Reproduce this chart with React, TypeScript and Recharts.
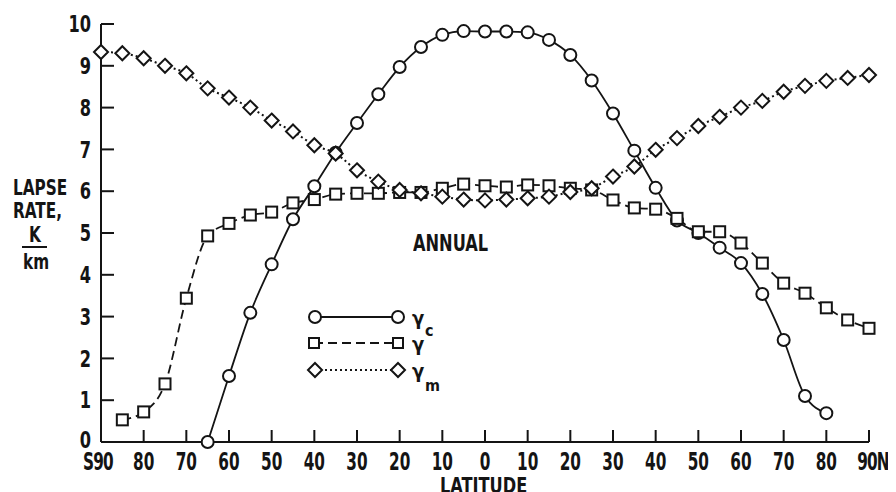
import React from 'react';
import { LineChart, Line, XAxis, YAxis } from 'recharts';

const latitudes = [-90, -85, -80, -75, -70, -65, -60, -55, -50, -45, -40, -35, -30, -25, -20, -15, -10, -5, 0, 5, 10, 15, 20, 25, 30, 35, 40, 45, 50, 55, 60, 65, 70, 75, 80, 85, 90];

const gammaC: (number | null)[] = [null, null, null, null, null, 0, 1.58, 3.09, 4.25, 5.33, 6.12, 6.92, 7.63, 8.32, 8.97, 9.45, 9.74, 9.83, 9.82, 9.82, 9.8, 9.62, 9.26, 8.65, 7.86, 6.97, 6.08, 5.3, 5.0, 4.65, 4.28, 3.54, 2.44, 1.1, 0.69, null, null];

const gamma: (number | null)[] = [null, 0.53, 0.72, 1.39, 3.44, 4.93, 5.23, 5.43, 5.5, 5.72, 5.8, 5.93, 5.95, 5.95, 5.97, 5.97, 6.07, 6.17, 6.13, 6.1, 6.15, 6.13, 6.07, 6.03, 5.79, 5.6, 5.57, 5.35, 5.03, 5.03, 4.76, 4.28, 3.8, 3.56, 3.21, 2.92, 2.72];

const gammaM: (number | null)[] = [9.33, 9.3, 9.18, 9.0, 8.82, 8.46, 8.24, 8.0, 7.69, 7.43, 7.1, 6.9, 6.5, 6.23, 6.03, 5.95, 5.87, 5.8, 5.78, 5.8, 5.83, 5.87, 5.98, 6.07, 6.35, 6.59, 6.99, 7.27, 7.56, 7.78, 8.0, 8.16, 8.38, 8.52, 8.64, 8.71, 8.78];

const xTicks = [-90, -80, -70, -60, -50, -40, -30, -20, -10, 0, 10, 20, 30, 40, 50, 60, 70, 80, 90];
const yTicks = [0, 1, 2, 3, 4, 5, 6, 7, 8, 9, 10];

const data = latitudes.map((lat, i) => ({ lat, gc: gammaC[i], g: gamma[i], gm: gammaM[i] }));

const FONT = '"Liberation Sans Narrow", "DejaVu Sans Condensed", "Arial Narrow", sans-serif';
const INK = '#141414';

const xLabel = (v: number) => {
  if (v === -90) return 'S90';
  if (v === 90) return '90N';
  return String(Math.abs(v));
};

const XTick = (props: any) => {
  const { x, y, payload } = props;
  const v = payload.value;
  const dx = v === -90 ? -3 : v === 90 ? 4 : 0;
  return (
    <g>
      <line x1={x} y1={y} x2={x} y2={y - 12} stroke={INK} strokeWidth={2} />
      <text
        transform={`translate(${x + dx},${y}) scale(1,1.45)`}
        x={0}
        y={19.5}
        textAnchor="middle"
        fontFamily={FONT}
        fontWeight="bold"
        fontSize={17}
        letterSpacing={v === 90 || v === -90 ? -0.8 : 0}
        fill={INK}
      >
        {xLabel(v)}
      </text>
    </g>
  );
};

const YTick = (props: any) => {
  const { x, y, payload } = props;
  return (
    <g>
      <line x1={x} y1={y} x2={x + 13} y2={y} stroke={INK} strokeWidth={2} />
      <text
        transform={`translate(${x - 10},${y - (payload.value === 0 ? 2 : 0)}) scale(1,1.25)`}
        x={0}
        y={0}
        dy="0.36em"
        textAnchor="end"
        fontFamily={FONT}
        fontWeight="bold"
        fontSize={18}
        fill={INK}
      >
        {payload.value}
      </text>
    </g>
  );
};

const CircleDot = (props: any) => {
  const { cx, cy, value } = props;
  if (value == null || cx == null || cy == null) return <g key={props.key} />;
  return <circle key={props.key} cx={cx} cy={cy} r={6} fill="#fff" stroke={INK} strokeWidth={2} />;
};

const SquareDot = (props: any) => {
  const { cx, cy, value } = props;
  if (value == null || cx == null || cy == null) return <g key={props.key} />;
  return <rect key={props.key} x={cx - 5.5} y={cy - 5.5} width={11} height={11} fill="#fff" stroke={INK} strokeWidth={2} />;
};

const DiamondDot = (props: any) => {
  const { cx, cy, value } = props;
  if (value == null || cx == null || cy == null) return <g key={props.key} />;
  const d = 7;
  return (
    <polygon
      key={props.key}
      points={`${cx},${cy - d} ${cx + d},${cy} ${cx},${cy + d} ${cx - d},${cy}`}
      fill="#fff"
      stroke={INK}
      strokeWidth={2}
    />
  );
};

const textStyle: React.CSSProperties = {
  position: 'absolute',
  fontFamily: FONT,
  fontWeight: 'bold',
  color: INK,
  whiteSpace: 'nowrap',
  lineHeight: 1,
  transformOrigin: 'left top',
};

const LegendBox = () => (
  <svg style={{ position: 'absolute', left: 290, top: 290 }} width={180} height={100}>
    <line x1={17} y1={19} x2={100} y2={19} stroke={INK} strokeWidth={2} />
    <circle cx={17} cy={19} r={6} fill="#fff" stroke={INK} strokeWidth={2} />
    <circle cx={100} cy={19} r={6} fill="#fff" stroke={INK} strokeWidth={2} />
    <text x={114} y={27} fontFamily={FONT} fontWeight="bold" fontSize={20} fill={INK}>γ</text>
    <text x={127} y={38} fontFamily={FONT} fontWeight="bold" fontSize={16} fill={INK}>c</text>
    <line x1={16} y1={45} x2={100} y2={45} stroke={INK} strokeWidth={2} strokeDasharray="9 5" />
    <rect x={11} y={40} width={10} height={10} fill="#fff" stroke={INK} strokeWidth={2} />
    <rect x={95} y={40} width={10} height={10} fill="#fff" stroke={INK} strokeWidth={2} />
    <text x={114} y={53} fontFamily={FONT} fontWeight="bold" fontSize={20} fill={INK}>γ</text>
    <line x1={17} y1={72} x2={100} y2={72} stroke={INK} strokeWidth={2} strokeDasharray="2 3" />
    <polygon points="17,65 24,72 17,79 10,72" fill="#fff" stroke={INK} strokeWidth={2} />
    <polygon points="100,65 107,72 100,79 93,72" fill="#fff" stroke={INK} strokeWidth={2} />
    <text x={114} y={80} fontFamily={FONT} fontWeight="bold" fontSize={20} fill={INK}>γ</text>
    <text x={127} y={93} fontFamily={FONT} fontWeight="bold" fontSize={16} fill={INK}>m</text>
  </svg>
);

export default function App() {
  return (
    <div style={{ position: 'relative', width: 880, height: 484, background: '#fff' }}>
      <LineChart width={880} height={476} data={data} margin={{ top: 16, right: 19, bottom: 12, left: 33 }}>
        <XAxis
          type="number"
          dataKey="lat"
          domain={[-90, 90]}
          ticks={xTicks}
          interval={0}
          height={30}
          tickSize={0}
          tickMargin={0}
          tickLine={false}
          axisLine={{ stroke: INK, strokeWidth: 2 }}
          tick={<XTick />}
        />
        <YAxis
          type="number"
          domain={[0, 10]}
          ticks={yTicks}
          interval={0}
          width={60}
          tickSize={0}
          tickMargin={0}
          tickLine={false}
          axisLine={{ stroke: INK, strokeWidth: 2 }}
          tick={<YTick />}
        />
        <Line
          type="monotone"
          dataKey="gc"
          stroke={INK}
          strokeWidth={1.8}
          dot={CircleDot}
          activeDot={false}
          isAnimationActive={false}
        />
        <Line
          type="monotone"
          dataKey="g"
          stroke={INK}
          strokeWidth={1.8}
          strokeDasharray="9 5"
          dot={SquareDot}
          activeDot={false}
          isAnimationActive={false}
        />
        <Line
          type="monotone"
          dataKey="gm"
          stroke={INK}
          strokeWidth={2}
          strokeDasharray="2 3"
          dot={DiamondDot}
          activeDot={false}
          isAnimationActive={false}
        />
      </LineChart>

      <div style={{ ...textStyle, left: 5, top: 169, fontSize: 17, transform: 'scaleY(1.25)' }}>LAPSE</div>
      <div style={{ ...textStyle, left: 5, top: 192, fontSize: 17, transform: 'scaleY(1.25)' }}>RATE,</div>
      <div style={{ ...textStyle, left: 15, top: 217, width: 24, textAlign: 'center', fontSize: 17, transform: 'scaleY(1.2)' }}>K</div>
      <div style={{ position: 'absolute', left: 14, top: 238, width: 25, height: 2, background: INK }} />
      <div style={{ ...textStyle, left: 15, top: 244, width: 24, textAlign: 'center', fontSize: 17, transform: 'scaleY(1.2)' }}>km</div>

      <div style={{ ...textStyle, left: 405, top: 223, fontSize: 18, transform: 'scaleY(1.3)' }}>ANNUAL</div>
      <div style={{ ...textStyle, left: 432, top: 467, fontSize: 18, transform: 'scaleY(1.2)' }}>LATITUDE</div>

      <LegendBox />
    </div>
  );
}
